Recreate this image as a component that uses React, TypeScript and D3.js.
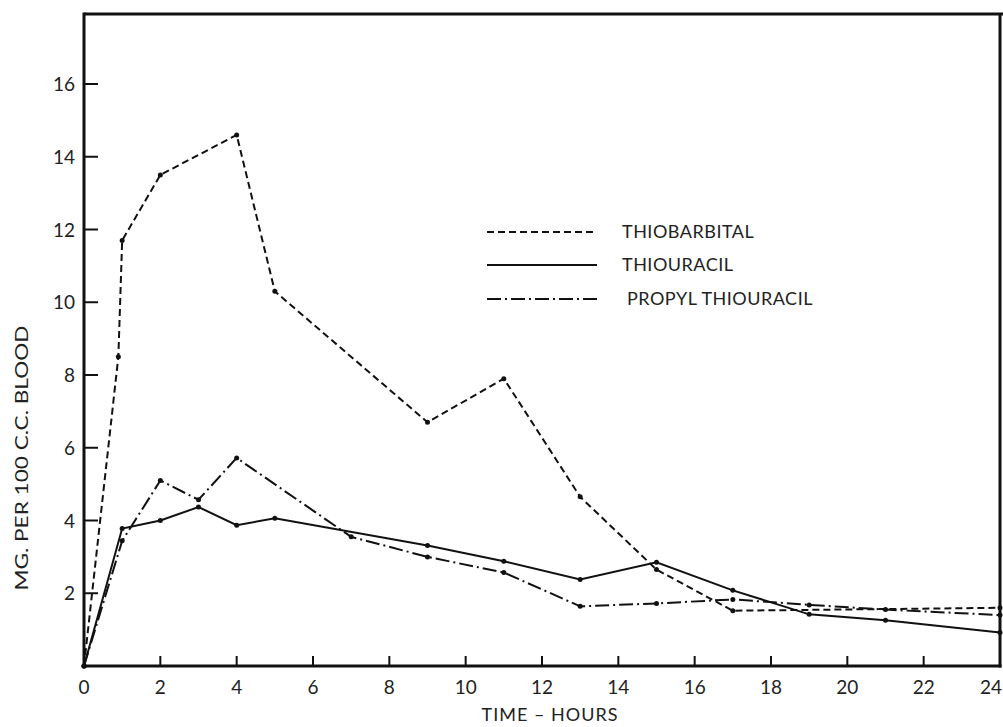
import React from "react";
import * as d3 from "d3";

const xTicks = [0, 2, 4, 6, 8, 10, 12, 14, 16, 18, 20, 22, 24];
const yTicks = [2, 4, 6, 8, 10, 12, 14, 16];

const thiobarbitalHours = [0, 0.9, 1, 2, 4, 5, 9, 11, 13, 15, 17, 24];
const thiobarbitalValues = [0, 8.5, 11.7, 13.5, 14.6, 10.3, 6.7, 7.9, 4.65, 2.65, 1.52, 1.6];

const thiouracilHours = [0, 1, 2, 3, 4, 5, 9, 11, 13, 15, 17, 19, 21, 24];
const thiouracilValues = [0, 3.78, 4.0, 4.37, 3.87, 4.06, 3.31, 2.88, 2.38, 2.85, 2.08, 1.42, 1.26, 0.92];

const propylHours = [0, 1, 2, 3, 4, 7, 9, 11, 13, 15, 17, 19, 21, 24];
const propylValues = [0, 3.44, 5.1, 4.57, 5.72, 3.55, 3.0, 2.57, 1.64, 1.72, 1.83, 1.68, 1.55, 1.4];

const seriesNames = ["THIOBARBITAL", "THIOURACIL", "PROPYL THIOURACIL"];

const FONT = "Lato, 'DejaVu Sans', sans-serif";

export default function App() {
  const x = d3.scaleLinear().domain([0, 24]).range([84, 1000]);
  const y = d3.scaleLinear().domain([0, 16]).range([666, 84]);
  const yTop = y.invert(14);

  const mk = (hs: number[], vs: number[]) => hs.map((h, i) => [h, vs[i]] as [number, number]);
  const series = [
    { name: seriesNames[0], pts: mk(thiobarbitalHours, thiobarbitalValues), dash: "7,4" },
    { name: seriesNames[1], pts: mk(thiouracilHours, thiouracilValues), dash: "" },
    { name: seriesNames[2], pts: mk(propylHours, propylValues), dash: "14,4,2,4" },
  ];
  const line = d3
    .line<[number, number]>()
    .x((d) => x(d[0]))
    .y((d) => y(d[1]));

  const legendY = [232, 265, 299];
  const legendTextX = [622, 622, 627];

  return (
    <svg width={1003} height={727} style={{ position: "absolute", left: 0, top: 0, background: "#fff" }}>
      <rect x={0} y={0} width={1003} height={727} fill="#fff" />
      {/* frame */}
      <line x1={x(0)} x2={1003} y1={y(yTop)} y2={y(yTop)} stroke="#111" strokeWidth={3} />
      <line x1={x(0)} x2={x(0)} y1={y(yTop) - 1.5} y2={y(0) + 1.5} stroke="#111" strokeWidth={3} />
      <line x1={x(24)} x2={x(24)} y1={y(yTop)} y2={y(0) + 1.5} stroke="#111" strokeWidth={3} />
      <line x1={x(0)} x2={x(24) + 1.5} y1={y(0)} y2={y(0)} stroke="#111" strokeWidth={3} />
      {/* y ticks */}
      {yTicks.map((t) => (
        <g key={"y" + t}>
          <line x1={x(0)} x2={x(0) + 14} y1={y(t)} y2={y(t)} stroke="#111" strokeWidth={2} />
          <text x={75} y={y(t) + 7} textAnchor="end" fontSize={19} fontFamily={FONT} fill="#222">
            {t}
          </text>
        </g>
      ))}
      {/* x ticks */}
      {xTicks.map((t) => (
        <g key={"x" + t}>
          {t > 0 && t < 24 && (
            <line x1={x(t)} x2={x(t)} y1={y(0)} y2={y(0) - 10} stroke="#111" strokeWidth={2} />
          )}
          <text
            x={t === 24 ? 1002 : x(t)}
            y={694}
            textAnchor={t === 24 ? "end" : "middle"}
            fontSize={19}
            fontFamily={FONT}
            fill="#222"
          >
            {t}
          </text>
        </g>
      ))}
      {/* axis titles */}
      <text
        transform={`translate(28,458) rotate(-90)`}
        textAnchor="middle"
        fontSize={18}
        fontFamily={FONT}
        fill="#222"
        textLength={265}
        lengthAdjust="spacingAndGlyphs"
      >
        MG. PER 100 C.C. BLOOD
      </text>
      <text x={550} y={721} textAnchor="middle" fontSize={18} fontFamily={FONT} fill="#222" letterSpacing={1}>
        TIME – HOURS
      </text>
      {/* series */}
      {series.map((s) => (
        <g key={s.name}>
          <path d={line(s.pts) || ""} fill="none" stroke="#111" strokeWidth={2} strokeDasharray={s.dash || undefined} />
          {s.pts.map((p, i) => (
            <circle key={i} cx={x(p[0])} cy={y(p[1])} r={2.5} fill="#111" />
          ))}
        </g>
      ))}
      {/* legend */}
      {series.map((s, i) => (
        <g key={"leg" + i}>
          <line
            x1={487}
            x2={597}
            y1={legendY[i]}
            y2={legendY[i]}
            stroke="#111"
            strokeWidth={2}
            strokeDasharray={s.dash || undefined}
          />
          <text x={legendTextX[i]} y={legendY[i] + 6} fontSize={18} fontFamily={FONT} fill="#222" letterSpacing={0.5}>
            {s.name}
          </text>
        </g>
      ))}
    </svg>
  );
}
